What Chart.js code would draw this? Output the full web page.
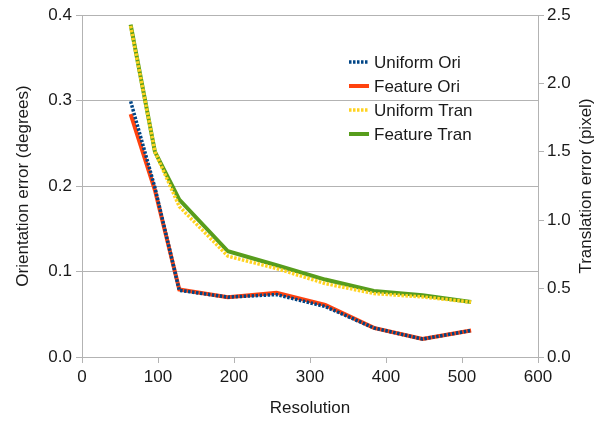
<!DOCTYPE html>
<html>
<head>
<meta charset="utf-8">
<script src="https://cdn.jsdelivr.net/npm/chart.js@4"></script>
<style>
  html, body { margin: 0; padding: 0; background: #fff; }
  canvas { display: block; }
</style>
</head>
<body>
<canvas id="errChart" width="611" height="422"></canvas>
<script>
// values
const resolution = [64, 96, 128, 192, 256, 320, 384, 448, 512];
const uniformOri = [0.299, 0.198, 0.078, 0.070, 0.073, 0.059, 0.034, 0.021, 0.031];
const featureOri = [0.284, 0.195, 0.079, 0.070, 0.075, 0.061, 0.034, 0.021, 0.031];
const uniformTran = [2.42, 1.50, 1.10, 0.737, 0.647, 0.537, 0.464, 0.439, 0.402];
const featureTran = [2.43, 1.50, 1.15, 0.773, 0.671, 0.566, 0.483, 0.451, 0.402];
const xTicks = [0, 100, 200, 300, 400, 500, 600];
const oriTicks = [0, 0.1, 0.2, 0.3, 0.4];
const tranTicks = [0, 0.5, 1.0, 1.5, 2.0, 2.5];

const gridCol = '#b3b3b3';
const textCol = '#1a1a1a';

function pts(ys) {
    return resolution.map(function (x, i) { return { x: x, y: ys[i] }; });
}

Chart.defaults.font.family = "'Liberation Sans', Arial, sans-serif";
Chart.defaults.font.size = 17;
Chart.defaults.color = textCol;

// legend drawn inside the plot, plus the right axis title (reads bottom to top)
const extras = {
    id: 'extras',
    afterDraw(chart) {
        const ctx = chart.ctx;
        ctx.save();
        ctx.font = "17px 'Liberation Sans', Arial, sans-serif";
        ctx.fillStyle = textCol;
        ctx.textBaseline = 'middle';
        const rows = [62, 86, 110, 134];
        chart.data.datasets.forEach(function (ds, i) {
            ctx.beginPath();
            ctx.strokeStyle = ds.borderColor;
            ctx.lineWidth = ds.borderWidth;
            ctx.setLineDash(ds.borderDash || []);
            ctx.moveTo(349, rows[i]);
            ctx.lineTo(369, rows[i]);
            ctx.stroke();
            ctx.setLineDash([]);
            ctx.fillText(ds.label, 374, rows[i] + 1);
        });
        const area = chart.chartArea;
        ctx.translate(586, (area.top + area.bottom) / 2);
        ctx.rotate(-Math.PI / 2);
        ctx.textAlign = 'center';
        ctx.fillText('Translation error (pixel)', 0, 0);
        ctx.restore();
    }
};

const chart = new Chart(document.getElementById('errChart').getContext('2d'), {
    type: 'line',
    data: {
        datasets: [
            { label: 'Uniform Ori', data: pts(uniformOri), yAxisID: 'yOri',
              borderColor: '#004586', borderWidth: 3.5, borderDash: [2.5, 1.5] },
            { label: 'Feature Ori', data: pts(featureOri), yAxisID: 'yOri',
              borderColor: '#ff420e', borderWidth: 4 },
            { label: 'Uniform Tran', data: pts(uniformTran), yAxisID: 'yTran',
              borderColor: '#ffd320', borderWidth: 3.5, borderDash: [2.5, 1.5] },
            { label: 'Feature Tran', data: pts(featureTran), yAxisID: 'yTran',
              borderColor: '#579d1c', borderWidth: 4 },
        ],
    },
    options: {
        responsive: false,
        animation: false,
        layout: { padding: { top: 15, left: 0, right: 0, bottom: 0 } },
        elements: {
            point: { radius: 0 },
            line: { tension: 0, borderCapStyle: 'butt', borderJoinStyle: 'miter', fill: false },
        },
        plugins: { legend: { display: false }, tooltip: { enabled: false } },
        scales: {
            x: {
                type: 'linear', min: 0, max: 600,
                afterBuildTicks: function (s) { s.ticks = xTicks.map(function (v) { return { value: v }; }); },
                afterFit: function (s) { s.height = 65; },
                grid: { drawOnChartArea: false, color: gridCol, tickLength: 6 },
                border: { color: gridCol },
                ticks: { padding: 4, maxRotation: 0, color: textCol },
                title: { display: true, text: 'Resolution', color: textCol, padding: { top: 0, bottom: 3 } },
            },
            yOri: {
                type: 'linear', position: 'left', min: 0, max: 0.4,
                afterBuildTicks: function (s) { s.ticks = oriTicks.map(function (v) { return { value: v }; }); },
                afterFit: function (s) { s.width = 82; },
                grid: { color: gridCol, tickLength: 6 },
                border: { color: gridCol },
                ticks: { padding: 4, color: textCol, callback: function (v) { return v.toFixed(1); } },
                title: { display: true, text: 'Orientation error (degrees)', color: textCol, padding: { top: 13, bottom: 0 } },
            },
            yTran: {
                type: 'linear', position: 'right', min: 0, max: 2.5,
                afterBuildTicks: function (s) { s.ticks = tranTicks.map(function (v) { return { value: v }; }); },
                afterFit: function (s) { s.width = 73; },
                grid: { drawOnChartArea: false, color: gridCol, tickLength: 6 },
                border: { color: gridCol },
                ticks: { padding: 3, color: textCol, callback: function (v) { return v.toFixed(1); } },
            },
        },
    },
    plugins: [extras],
});
</script>
</body>
</html>
